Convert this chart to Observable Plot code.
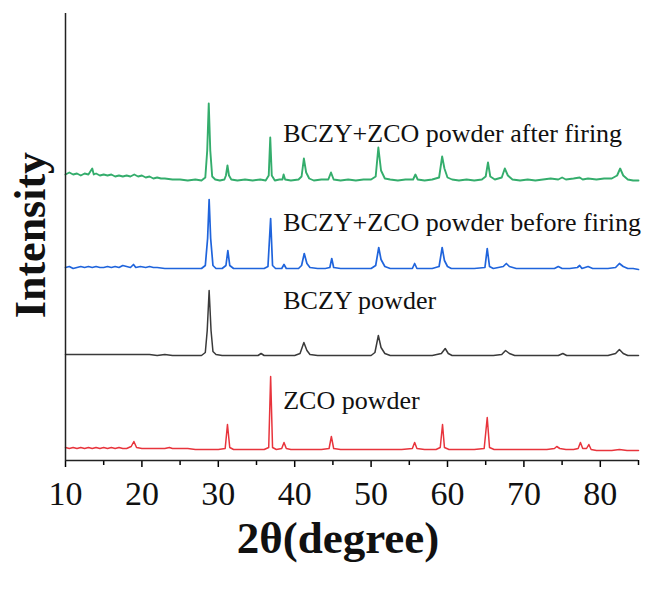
<!DOCTYPE html>
<html>
<head>
<meta charset="utf-8">
<script src="https://cdn.jsdelivr.net/npm/d3@7"></script>
<script src="https://cdn.jsdelivr.net/npm/@observablehq/plot@0.6"></script>
<style>
  html, body { margin: 0; padding: 0; background: #fff; }
  #chart svg { display: block; }
</style>
</head>
<body>
<div id="chart"></div>
<script>
// ---- data ----
const seriesNames = ["ZCO powder", "BCZY powder", "BCZY+ZCO powder before firing", "BCZY+ZCO powder after firing"];
const seriesColors = ["#e8343c", "#3a3a3a", "#1f64dc", "#34ad6c"];
const seriesOffsets = [12, 105, 192, 280]; // vertical stacking offsets (a.u.)
const xTicks = [10, 20, 30, 40, 50, 60, 70, 80];
const xMinorTicks = [15, 25, 35, 45, 55, 65, 75, 85];

// [2θ, intensity above own baseline]
const zcoPts = [[10,1],[10.5,0],[11,1],[11.5,0],[12,1],[12.5,0],[13,1],[13.5,0],[14,1],[14.5,0],[15,1],[15.5,0],[16,1],[16.5,0],[17,1],[17.5,0],[18,0],[18.6,2],[18.95,7],[19.3,1],[20,0],[21,0],[22,0],[23,0],[23.6,1],[24,0],[25,0],[26,0],[27,-1],[28,-1],[29,-1],[30,-1],[30.9,0],[31.2,24],[31.5,1],[32,-1],[33,-1],[34,-1],[35,-1],[36,-1],[36.6,1],[36.85,72],[37.1,1],[37.6,-1],[38.3,0],[38.6,6],[38.9,0],[39.5,-1],[40.5,-1],[41.5,-1],[42.5,-1],[43.5,-1],[44.5,0],[44.8,12],[45.1,0],[46,-1],[47,-1],[48,-1],[50,-1],[52,-1],[54,-1],[55.4,0],[55.7,6],[56,0],[57,-1],[58.5,-1],[59.05,1],[59.35,24],[59.6,1],[60.2,-1],[61.5,-1],[62.5,-1],[63.5,-1],[64.8,0],[65.2,31],[65.5,1],[66.1,-1],[67,-1],[68,-1],[69,-1],[70,-1],[71,-1],[72,-1],[73,-1],[74,0],[74.3,2],[74.7,0],[75.5,-1],[76.5,-1],[77.1,0],[77.4,6],[77.7,0],[78.2,0],[78.5,4],[78.8,-1],[79.5,-2],[80.5,-2],[81.5,-2],[82.5,-1],[83.5,-2],[84.3,-2],[85,-2]];

const bczyPts = [[10,1],[11,1],[12,1],[13,1],[14,1],[15,1],[16,1],[17,1],[18,1],[19,1],[20,1],[21,1],[22,0],[23,1],[24,0],[25,0],[26,0],[27,0],[27.8,0],[28.3,3],[28.55,25],[28.8,65],[29.05,25],[29.3,4],[29.7,1],[30.5,0],[32,0],[33.5,0],[35.2,0],[35.6,2],[36,0],[37,0],[38,0],[39,0],[40,0],[40.7,2],[41.2,13],[41.6,5],[42,1],[43,0],[44,0],[45,0],[46,0],[47,0],[48,0],[49,0],[50,0],[50.5,3],[50.95,20],[51.3,8],[51.8,2],[52.5,0],[54,0],[56,0],[58,0],[59.2,2],[59.7,7],[60.1,2],[60.6,0],[62,0],[64,0],[66,0],[67.1,1],[67.6,5],[68.1,2],[68.8,0],[70,0],[72,0],[74.5,0],[75.1,2],[75.6,0],[77,0],[79,0],[81,0],[82,2],[82.5,6],[83,2],[83.6,0],[85,0]];

const beforePts = [[10,1],[10.5,2],[11,0],[11.5,1],[12,2],[12.5,1],[13,2],[13.5,1],[14,2],[14.5,1],[15,1],[15.5,2],[16,1],[16.5,2],[17,1],[17.5,3],[18,2],[18.5,1],[18.9,4],[19.2,1],[19.8,2],[20.5,1],[21,2],[21.5,1],[22,1],[23,0],[24,0],[25,0],[26,0],[27,0],[27.8,0],[28.3,3],[28.6,30],[28.8,69],[29,30],[29.3,3],[29.7,0],[30.5,0],[31,3],[31.25,18],[31.5,3],[32,0],[33,0],[34,0],[35,0],[36,0],[36.5,2],[36.85,50],[37.1,3],[37.5,0],[38.3,0],[38.6,4],[38.9,0],[39.5,0],[40.5,0],[40.9,3],[41.25,15],[41.6,5],[42,1],[43,0],[44,0],[44.6,1],[44.85,10],[45.1,1],[46,0],[47,0],[48,0],[49,0],[50,0],[50.6,3],[51,21],[51.3,9],[51.8,2],[52.5,0],[54,0],[55.4,0],[55.7,5],[56,0],[57,0],[58,0],[58.9,2],[59.3,21],[59.6,8],[60,2],[60.5,0],[62,0],[63.5,0],[64.9,1],[65.2,20],[65.5,2],[66,0],[67.3,2],[67.7,5],[68.1,2],[69,0],[70,0],[71,0],[72,0],[73,0],[74,0],[74.5,2],[75,0],[76,0],[77,1],[77.3,3],[77.6,0],[78.4,2],[79,0],[80,0],[81,0],[82,1],[82.5,5],[83,2],[83.6,0],[84.3,0],[85,-1]];

const afterPts = [[10,6],[10.5,8],[11,6],[11.5,7],[12,5],[12.5,7],[13,6],[13.5,12],[13.7,6],[14,7],[14.5,5],[15,6],[15.5,5],[16,6],[16.5,4],[17,5],[17.5,4],[18,5],[18.5,4],[19,6],[19.5,4],[20,5],[20.5,3],[21,4],[21.5,2],[22,3],[22.5,2],[23,2],[24,1],[25,1],[26,0],[27,1],[27.8,0],[28.3,3],[28.55,30],[28.75,77],[28.95,30],[29.2,4],[29.6,1],[30.2,0],[30.8,1],[31,5],[31.2,15],[31.4,5],[31.7,1],[32.5,0],[33.5,1],[34.5,0],[35.5,1],[36.2,0],[36.6,5],[36.8,43],[37,5],[37.4,0],[38,1],[38.4,1],[38.55,6],[38.75,1],[39.5,0],[40.5,1],[40.9,4],[41.2,22],[41.5,8],[41.9,2],[42.5,0],[43.5,1],[44.4,1],[44.75,8],[45.1,1],[46,0],[47,1],[48,0],[49,1],[50,1],[50.6,4],[50.95,33],[51.3,10],[51.8,2],[52.5,1],[53.5,0],[54.5,1],[55.5,1],[55.8,6],[56.1,1],[57,0],[58,1],[58.9,3],[59.3,24],[59.6,12],[60,3],[60.6,1],[61.5,0],[62.5,1],[63.5,0],[64.5,1],[65,4],[65.3,18],[65.6,4],[66.2,1],[67.1,3],[67.5,12],[67.9,5],[68.5,1],[69.5,0],[70.5,1],[71.5,0],[72.5,1],[73.5,2],[74.5,1],[75,3],[75.5,1],[76.5,2],[77.3,3],[77.7,1],[78.4,2],[79.5,1],[80.5,2],[81.5,2],[82.2,5],[82.6,12],[83,5],[83.6,1],[84.3,0],[85,0]];

const seriesPts = [zcoPts, bczyPts, beforePts, afterPts];
const seriesWidths = [1.5, 1.5, 1.7, 1.9];

// ---- build table ----
const rows = [];
seriesPts.forEach((pts, i) => {
  pts.forEach(([x, h]) => rows.push({series: seriesNames[i], x, y: seriesOffsets[i] + h}));
});
const labelY = [60, 160, 238, 327];
const labels = seriesNames.map((name, i) => ({name, x: 38.5, y: labelY[i]}));

const font = "'Liberation Serif', 'Times New Roman', Times, serif";

const chart = Plot.plot({
  width: 649,
  height: 592,
  marginLeft: 65,
  marginRight: 11,
  marginTop: 13,
  marginBottom: 132,
  style: {fontFamily: font, background: "#fff", color: "#000"},
  x: {domain: [10, 85]},
  y: {domain: [0, 447], axis: null},
  color: {domain: seriesNames, range: seriesColors},
  marks: [
    ...seriesNames.map((name, i) =>
      Plot.line(rows.filter(d => d.series === name), {x: "x", y: "y", stroke: "series", strokeWidth: seriesWidths[i], curve: "linear"})
    ),
    Plot.text(labels, {x: "x", y: "y", text: "name", textAnchor: "start", fontSize: 26, fill: "#111", fontFamily: font}),
    Plot.axisX({ticks: xMinorTicks, tickSize: 5, text: null, label: null, strokeWidth: 1.5}),
    Plot.axisX({ticks: xTicks, tickSize: 7, tickPadding: 13, fontSize: 34, strokeWidth: 1.5, label: null, fill: "#111"}),
    Plot.ruleY([0], {stroke: "#222", strokeWidth: 1.5}),
    Plot.ruleX([10], {y1: 0, y2: 447, stroke: "#222", strokeWidth: 1.5}),
    Plot.text(["2θ(degree)"], {frameAnchor: "bottom", dx: -14, dy: 92, fontSize: 45, fontWeight: "bold", fill: "#111", fontFamily: font}),
    Plot.text(["Intensity"], {frameAnchor: "left", textAnchor: "middle", dx: -35, dy: -2, rotate: -90, fontSize: 44, fontWeight: "bold", fill: "#111", fontFamily: font})
  ]
});
document.getElementById("chart").appendChild(chart);
</script>
</body>
</html>
